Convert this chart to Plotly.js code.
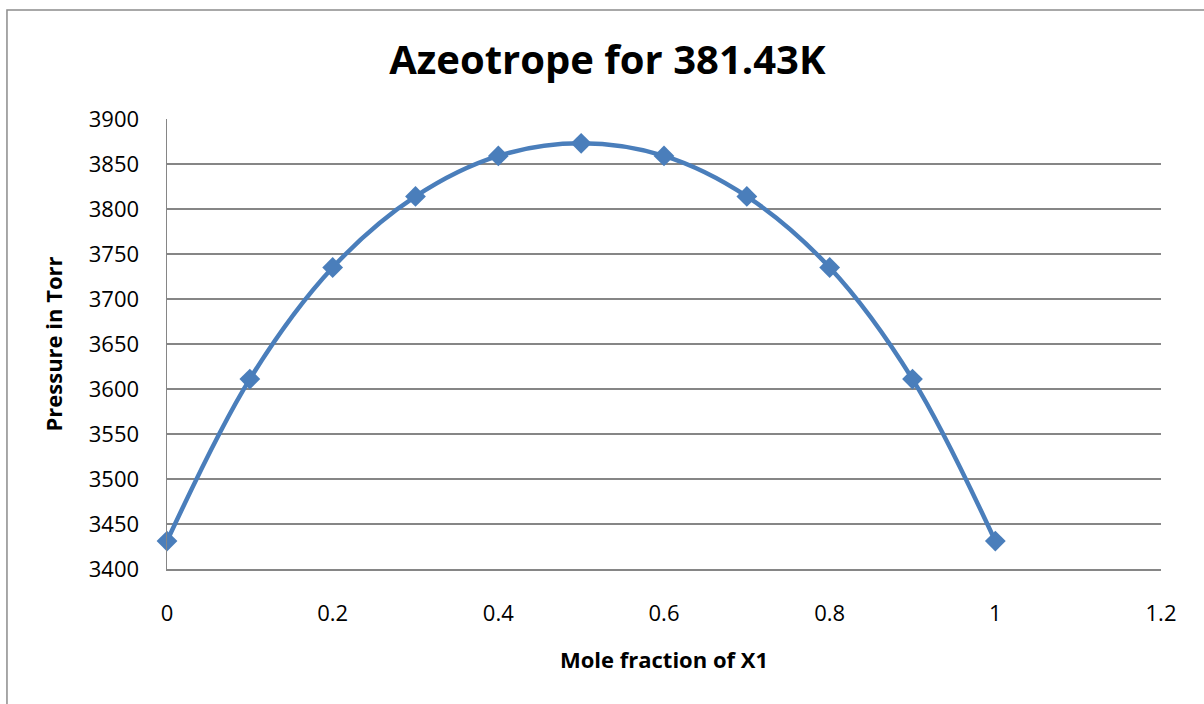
<!DOCTYPE html>
<html>
<head>
<meta charset="utf-8">
<script src="https://cdn.plot.ly/plotly-3.0.1.min.js"></script>
<style>html,body{margin:0;padding:0;background:#fff;}#chart{width:1204px;height:704px;}</style>
</head>
<body>
<div id="chart"></div>
<script>
const moleFraction = [0, 0.1, 0.2, 0.3, 0.4, 0.5, 0.6, 0.7, 0.8, 0.9, 1];
const pressure = [3431, 3611, 3735, 3814, 3859, 3873, 3859, 3814, 3735, 3611, 3431];
const xTicks = [0, 0.2, 0.4, 0.6, 0.8, 1, 1.2];
const xTickLabels = ['0', '0.2', '0.4', '0.6', '0.8', '1', '1.2'];
const yTicks = [3400, 3450, 3500, 3550, 3600, 3650, 3700, 3750, 3800, 3850, 3900];

const font = 'Open Sans, Liberation Sans, sans-serif';

const trace = {
  x: moleFraction,
  y: pressure,
  type: 'scatter',
  mode: 'lines+markers',
  line: {color: '#4a7ebb', width: 4.5, shape: 'spline', smoothing: 1},
  marker: {symbol: 'diamond', size: 16, color: '#4a7ebb'},
  cliponaxis: false,
  hoverinfo: 'x+y'
};

const layout = {
  width: 1204,
  height: 704,
  margin: {l: 167, r: 43, t: 119, b: 135, pad: 0},
  paper_bgcolor: '#ffffff',
  plot_bgcolor: '#ffffff',
  showlegend: false,
  font: {family: font, color: '#000', size: 22},
  title: {
    text: '<b>Azeotrope for 381.43K</b>',
    font: {family: font, size: 40, color: '#000'},
    x: 0.443, xref: 'paper', xanchor: 'center',
    y: 61, yref: 'container', yanchor: 'middle'
  },
  xaxis: {
    range: [0, 1.2],
    tickvals: xTicks,
    ticktext: xTickLabels,
    showgrid: false,
    zeroline: false,
    showline: true,
    linecolor: '#868686',
    linewidth: 1.5,
    ticks: '',
    ticklabelstandoff: 24,
    tickfont: {family: font, size: 22, color: '#000'},
    title: {text: '<b>Mole fraction of X1</b>', font: {family: font, size: 22, color: '#000'}, standoff: 26}
  },
  yaxis: {
    range: [3400, 3900],
    tickvals: yTicks,
    showgrid: true,
    gridcolor: '#868686',
    gridwidth: 1.3,
    zeroline: false,
    showline: true,
    linecolor: '#868686',
    linewidth: 1.5,
    ticks: '',
    ticklabelstandoff: 22,
    tickfont: {family: font, size: 22, color: '#000'},
    title: {text: '<b>Pressure in Torr</b>', font: {family: font, size: 22, color: '#000'}, standoff: 20}
  },
  shapes: [{
    type: 'rect', xref: 'paper', yref: 'paper',
    x0: -0.161, x1: 1.2, y0: -0.5, y1: 1.242,
    line: {color: '#8c8c8c', width: 1.5},
    fillcolor: 'rgba(0,0,0,0)', layer: 'below'
  }]
};

Plotly.newPlot('chart', [trace], layout, {displayModeBar: false, staticPlot: true});
</script>
</body>
</html>
